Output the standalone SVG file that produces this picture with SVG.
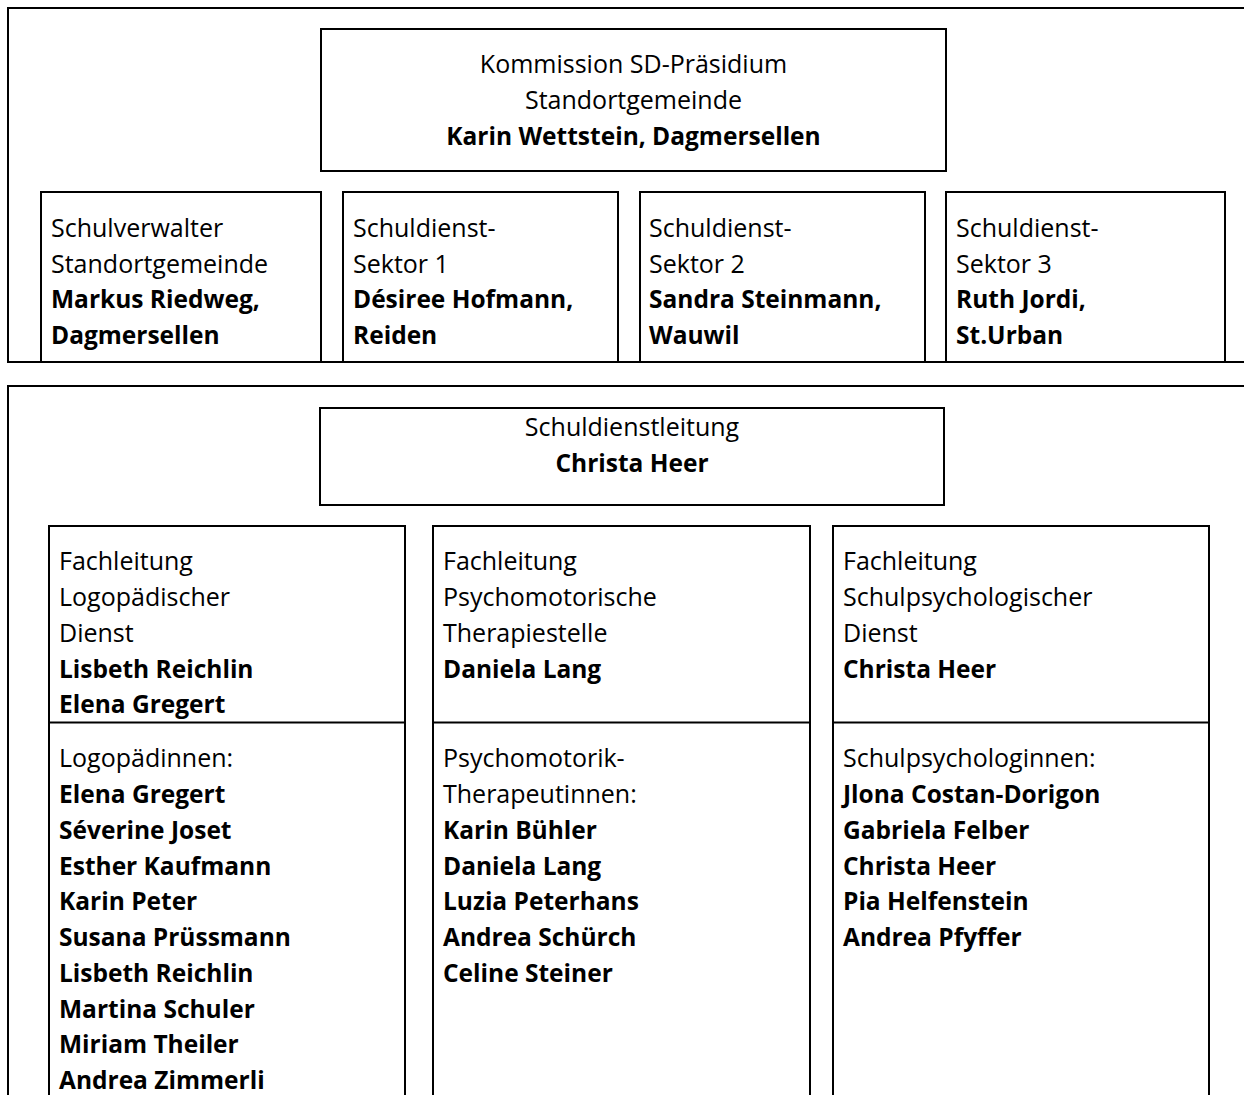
<svg xmlns="http://www.w3.org/2000/svg" width="1244" height="1095" viewBox="0 0 1244 1095">
<style>
.b{fill:none;stroke:#000;stroke-width:2}
text{font-family:"Open Sans","Liberation Sans",sans-serif;font-size:25px;fill:#000}
.bd{font-weight:bold;font-size:24.5px}
.c{text-anchor:middle}
</style>
<rect width="1244" height="1095" fill="#fff"/>
<g id="connectors">
<path class="b" d="M1244 8H8V362H1244"/>
<path class="b" d="M1244 386H8V1095"/>
</g>
<g id="kommission">
<rect class="b" x="321" y="29" width="625" height="142"/>
<text class="c" x="633.5" y="73">Kommission SD-Präsidium</text>
<text class="c" x="633.5" y="109">Standortgemeinde</text>
<text class="c bd" x="633.5" y="145">Karin Wettstein, Dagmersellen</text>
</g>
<g id="schulverwalter">
<path class="b" d="M41 362V192H321V362"/>
<text x="51" y="237">Schulverwalter</text>
<text x="51" y="272.5">Standortgemeinde</text>
<text class="bd" x="51" y="308">Markus Riedweg,</text>
<text class="bd" x="51" y="343.5">Dagmersellen</text>
</g>
<g id="sektor1">
<path class="b" d="M343 362V192H618V362"/>
<text x="353" y="237">Schuldienst-</text>
<text x="353" y="272.5">Sektor 1</text>
<text class="bd" x="353" y="308">Désiree Hofmann,</text>
<text class="bd" x="353" y="343.5">Reiden</text>
</g>
<g id="sektor2">
<path class="b" d="M640 362V192H925V362"/>
<text x="649" y="237">Schuldienst-</text>
<text x="649" y="272.5">Sektor 2</text>
<text class="bd" x="649" y="308">Sandra Steinmann,</text>
<text class="bd" x="649" y="343.5">Wauwil</text>
</g>
<g id="sektor3">
<path class="b" d="M946 362V192H1225V362"/>
<text x="956" y="237">Schuldienst-</text>
<text x="956" y="272.5">Sektor 3</text>
<text class="bd" x="956" y="308">Ruth Jordi,</text>
<text class="bd" x="956" y="343.5">St.Urban</text>
</g>
<g id="schuldienstleitung">
<rect class="b" x="320" y="408" width="624" height="97"/>
<text class="c" x="632" y="436">Schuldienstleitung</text>
<text class="c bd" x="632" y="472">Christa Heer</text>
</g>
<g id="logopaedie">
<path class="b" d="M49 1095V526H405V1095M49 722.5H405"/>
<text x="59" y="570">Fachleitung</text>
<text x="59" y="606">Logopädischer</text>
<text x="59" y="642">Dienst</text>
<text class="bd" x="59" y="677.5">Lisbeth Reichlin</text>
<text class="bd" x="59" y="713">Elena Gregert</text>
<text x="59" y="767">Logopädinnen:</text>
<text class="bd" x="59" y="803">Elena Gregert</text>
<text class="bd" x="59" y="838.5">Séverine Joset</text>
<text class="bd" x="59" y="874.5">Esther Kaufmann</text>
<text class="bd" x="59" y="910">Karin Peter</text>
<text class="bd" x="59" y="946">Susana Prüssmann</text>
<text class="bd" x="59" y="982">Lisbeth Reichlin</text>
<text class="bd" x="59" y="1017.5">Martina Schuler</text>
<text class="bd" x="59" y="1053">Miriam Theiler</text>
<text class="bd" x="59" y="1089">Andrea Zimmerli</text>
</g>
<g id="psychomotorik">
<path class="b" d="M433 1095V526H810V1095M433 722.5H810"/>
<text x="443" y="570">Fachleitung</text>
<text x="443" y="606">Psychomotorische</text>
<text x="443" y="642">Therapiestelle</text>
<text class="bd" x="443" y="677.5">Daniela Lang</text>
<text x="443" y="767">Psychomotorik-</text>
<text x="443" y="803">Therapeutinnen:</text>
<text class="bd" x="443" y="838.5">Karin Bühler</text>
<text class="bd" x="443" y="874.5">Daniela Lang</text>
<text class="bd" x="443" y="910">Luzia Peterhans</text>
<text class="bd" x="443" y="946">Andrea Schürch</text>
<text class="bd" x="443" y="982">Celine Steiner</text>
</g>
<g id="schulpsychologie">
<path class="b" d="M833 1095V526H1209V1095M833 722.5H1209"/>
<text x="843" y="570">Fachleitung</text>
<text x="843" y="606">Schulpsychologischer</text>
<text x="843" y="642">Dienst</text>
<text class="bd" x="843" y="677.5">Christa Heer</text>
<text x="843" y="767">Schulpsychologinnen:</text>
<text class="bd" x="843" y="803">Jlona Costan-Dorigon</text>
<text class="bd" x="843" y="838.5">Gabriela Felber</text>
<text class="bd" x="843" y="874.5">Christa Heer</text>
<text class="bd" x="843" y="910">Pia Helfenstein</text>
<text class="bd" x="843" y="946">Andrea Pfyffer</text>
</g>
</svg>
